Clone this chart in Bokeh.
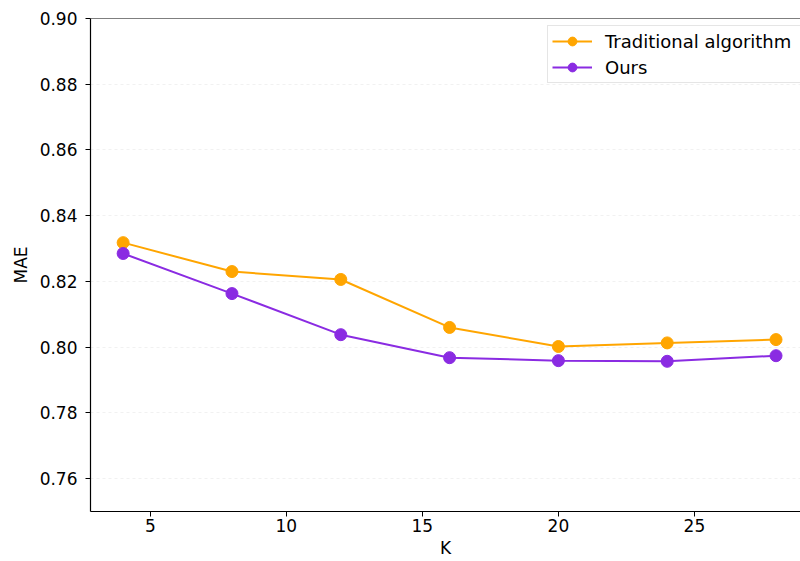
from bokeh.plotting import figure
from bokeh.models import Range1d, FixedTicker, Span, Legend, LegendItem, PrintfTickFormatter
from bokeh.embed import file_html
from bokeh.resources import INLINE

k_values = [4, 8, 12, 16, 20, 24, 28]
traditional = [0.8318, 0.8230, 0.8206, 0.8060, 0.8002, 0.8013, 0.8023]
ours = [0.8285, 0.8163, 0.8038, 0.7968, 0.7959, 0.7957, 0.7974]
x_ticks = [5, 10, 15, 20, 25]
y_ticks = [0.76, 0.78, 0.80, 0.82, 0.84, 0.86, 0.88, 0.90]

FONT = "DejaVu Sans"
ORANGE = "#FFA500"
PURPLE = "#8A2BE2"

p = figure(width=800, height=561, output_backend="svg", toolbar_location=None,
           x_range=Range1d(2.8, 28.9), y_range=Range1d(0.75, 0.90),
           min_border_left=90, min_border_right=0, min_border_top=18, min_border_bottom=50)
p.outline_line_color = None
p.background_fill_color = "white"
p.border_fill_color = "white"

top_spine = Span(location=0.90, dimension="width", line_color="black", line_width=1.2)
p.add_layout(top_spine)

for ax in (p.xaxis[0], p.yaxis[0]):
    ax.axis_line_color = "black"
    ax.axis_line_width = 1.2
    ax.major_tick_line_color = "black"
    ax.major_tick_out = 5
    ax.major_tick_in = 0
    ax.minor_tick_line_color = None
    ax.major_label_text_font = FONT
    ax.major_label_text_font_size = "17px"
    ax.major_label_text_color = "black"
    ax.axis_label_text_font = FONT
    ax.axis_label_text_font_size = "17px"
    ax.axis_label_text_font_style = "normal"
    ax.axis_label_text_color = "black"

p.xaxis.ticker = FixedTicker(ticks=x_ticks)
p.yaxis.ticker = FixedTicker(ticks=y_ticks)
p.yaxis.formatter = PrintfTickFormatter(format="%.2f")
p.xaxis.axis_label = "K"
p.yaxis.axis_label = "MAE"
p.xaxis.major_label_standoff = 2
p.yaxis.major_label_standoff = 8
p.xaxis.axis_label_standoff = 3
p.yaxis.axis_label_standoff = 6

p.xgrid.grid_line_color = None
p.ygrid.grid_line_color = "#e8e8e8"
p.ygrid.grid_line_dash = "3 3"
p.ygrid.grid_line_width = 0.6

l1 = p.line(k_values, traditional, line_color=ORANGE, line_width=2)
s1 = p.scatter(k_values, traditional, size=12, fill_color=ORANGE, line_color=ORANGE)
l2 = p.line(k_values, ours, line_color=PURPLE, line_width=2)
s2 = p.scatter(k_values, ours, size=12, fill_color=PURPLE, line_color=PURPLE)

legend = Legend(items=[LegendItem(label="Traditional algorithm", renderers=[l1, s1]),
                       LegendItem(label="Ours", renderers=[l2, s2])],
                location=(457, 428), padding=4, spacing=4,
                glyph_width=40, glyph_height=22, label_standoff=13,
                label_width=200,
                label_text_font=FONT, label_text_font_size="18px",
                label_text_color="black",
                border_line_color="#cccccc", border_line_width=1,
                background_fill_alpha=0.9)
p.add_layout(legend)

open("out.html", "w").write(file_html(p, INLINE))
